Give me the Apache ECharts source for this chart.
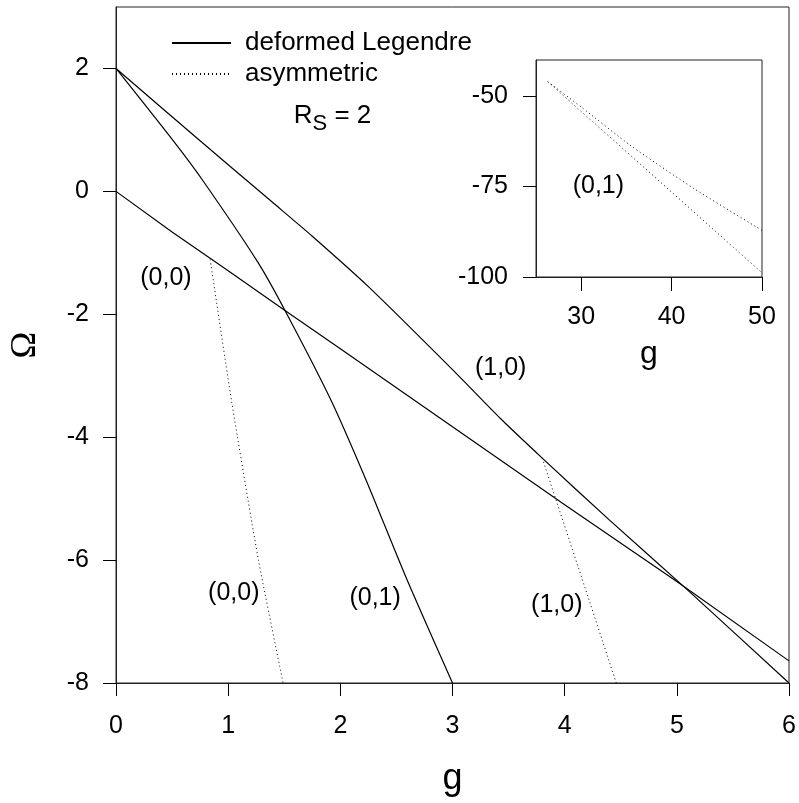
<!DOCTYPE html>
<html>
<head>
<meta charset="utf-8">
<script src="https://cdn.jsdelivr.net/npm/echarts@6/dist/echarts.min.js"></script>
<style>
  html, body { margin: 0; padding: 0; background: #fff; }
  #chart { width: 799px; height: 803px; }
</style>
</head>
<body>
<div id="chart"></div>
<script>
// tick positions
const gTicks = [0, 1, 2, 3, 4, 5, 6];
const omegaTicks = [-8, -6, -4, -2, 0, 2];
const insetGTicks = [30, 40, 50];
const insetOmegaTicks = [-100, -75, -50];

// deformed Legendre branches (g, Omega)
const legendre00 = [[0, 0], [0.5, -0.66], [1, -1.29], [1.5, -1.93], [2, -2.56], [3, -3.83], [4, -5.1], [5, -6.35], [6, -7.64]];
const legendre01 = [[0, 2], [0.52, 0.8], [0.78, 0.16], [1.26, -1.14], [1.51, -1.95], [1.92, -3.41], [2.23, -4.7], [2.59, -6.3], [3, -8]];
const legendre10 = [[0, 2], [0.7, 0.9], [1.39, -0.17], [1.75, -0.73], [2.25, -1.55], [3.0, -2.9], [3.43, -3.7], [3.8, -4.34], [4.4, -5.35], [5.08, -6.46], [6, -8]];

// asymmetric branches
const asym00 = [[0.84, -1.11], [1.03, -3.41], [1.27, -6.0], [1.49, -8]];
const asym10 = [[3.8, -4.34], [4.14, -6.22], [4.46, -8]];

// inset: asymmetric (0,1) at large g
const insetUpper = [[26.3, -46], [30, -53], [35.6, -63.9], [42.5, -75.6], [49.4, -86.2], [50, -87.1]];
const insetLower = [[26.3, -46], [35.6, -66.7], [49.8, -98.4], [50, -98.9]];

// annotation labels [g, Omega, text]
const mainLabels = [[0.445, -1.415, '(0,0)'], [1.05, -6.53, '(0,0)'], [2.31, -6.62, '(0,1)'], [3.93, -6.74, '(1,0)'], [3.43, -2.87, '(1,0)']];
const insetLabels = [[31.9, -74.9, '(0,1)']];
const rsLabel = [[1.93, 1.23]];

const FONT = 'Liberation Sans, Arial, sans-serif';
const SOLID = 'deformed Legendre';
const DOTTED = 'asymmetric';

const chart = echarts.init(document.getElementById('chart'));

const solidStyle = { color: '#000', width: 1.2 };
const dotStyle = { color: '#000', width: 1, type: [1, 3] };

function lineSeries(name, data, style, idx, smooth) {
  return {
    name: name,
    type: 'line',
    xAxisIndex: idx,
    yAxisIndex: idx,
    data: data,
    symbol: 'none',
    smooth: smooth || false,
    itemStyle: { color: '#000' },
    lineStyle: style,
    silent: true,
    z: 3
  };
}

function labelSeries(data, idx, extra) {
  return Object.assign({
    type: 'scatter',
    xAxisIndex: idx,
    yAxisIndex: idx,
    data: data,
    symbolSize: 1,
    itemStyle: { color: 'rgba(0,0,0,0)', opacity: 1 },
    silent: true,
    label: {
      show: true,
      position: 'inside',
      formatter: p => p.value[2],
      color: '#000',
      fontSize: 25,
      fontFamily: FONT
    }
  }, extra || {});
}

const tickLabel = { color: '#000', fontSize: 25, fontFamily: FONT };
const axisLine = { show: true, onZero: false, lineStyle: { color: '#222', width: 1 } };

const option = {
  animation: false,
  backgroundColor: '#fff',
  legend: {
    orient: 'vertical',
    left: 171,
    top: 30,
    padding: 0,
    itemWidth: 59,
    itemHeight: 14,
    itemGap: 5,
    selectedMode: false,
    data: [SOLID, DOTTED],
    itemStyle: { opacity: 0 },
    textStyle: { color: '#000', fontSize: 26, fontFamily: FONT, padding: [0, 0, 0, 9] }
  },
  grid: [
    { left: 113, top: 7, width: 676, height: 676, show: true, borderColor: '#222', borderWidth: 1, backgroundColor: 'transparent' },
    { left: 536, top: 60, width: 226, height: 217, show: true, borderColor: '#222', borderWidth: 1, backgroundColor: '#fff' }
  ],
  xAxis: [
    {
      gridIndex: 0, type: 'value', min: 0, max: 6, interval: 1,
      name: 'g', nameLocation: 'middle', nameGap: 78,
      nameTextStyle: { color: '#000', fontSize: 36, fontFamily: FONT },
      axisLine: axisLine,
      axisTick: { show: true, inside: false, length: 13, lineStyle: { color: '#000' }, customValues: gTicks },
      axisLabel: Object.assign({ margin: 31, customValues: gTicks }, tickLabel),
      splitLine: { show: false }
    },
    {
      gridIndex: 1, type: 'value', min: 25, max: 50,
      name: 'g', nameLocation: 'middle', nameGap: 61,
      nameTextStyle: { color: '#000', fontSize: 32, fontFamily: FONT },
      axisLine: axisLine,
      axisTick: { show: true, length: 14, lineStyle: { color: '#000' }, customValues: insetGTicks },
      axisLabel: Object.assign({ margin: 28, customValues: insetGTicks }, tickLabel),
      splitLine: { show: false }
    }
  ],
  yAxis: [
    {
      gridIndex: 0, type: 'value', min: -8, max: 3,
      name: 'Ω', nameLocation: 'middle', nameGap: 72, nameRotate: 90,
      nameTextStyle: { color: '#000', fontSize: 36, fontFamily: 'Liberation Serif, Times New Roman, serif' },
      axisLine: axisLine,
      axisTick: { show: true, length: 13, lineStyle: { color: '#000' }, customValues: omegaTicks },
      axisLabel: Object.assign({ margin: 27, customValues: omegaTicks }, tickLabel),
      splitLine: { show: false }
    },
    {
      gridIndex: 1, type: 'value', min: -100, max: -40,
      axisLine: axisLine,
      axisTick: { show: true, length: 13, lineStyle: { color: '#000' }, customValues: insetOmegaTicks },
      axisLabel: Object.assign({ margin: 28, customValues: insetOmegaTicks }, tickLabel),
      splitLine: { show: false }
    }
  ],
  series: [
    lineSeries(SOLID, legendre00, solidStyle, 0),
    lineSeries(SOLID, legendre01, solidStyle, 0, 0.25),
    lineSeries(SOLID, legendre10, solidStyle, 0, 0.25),
    lineSeries(DOTTED, asym00, dotStyle, 0, 0.2),
    lineSeries(DOTTED, asym10, dotStyle, 0),
    lineSeries(DOTTED, insetUpper, dotStyle, 1, 0.2),
    lineSeries(DOTTED, insetLower, dotStyle, 1),
    labelSeries(mainLabels, 0),
    labelSeries(insetLabels, 1),
    labelSeries(rsLabel, 0, {
      label: {
        show: true,
        position: 'inside',
        formatter: '{r|R}{s|S}{r| = 2}',
        rich: {
          r: { fontSize: 26, lineHeight: 26, verticalAlign: 'top', color: '#000', fontFamily: FONT },
          s: { fontSize: 22, lineHeight: 22, verticalAlign: 'top', padding: [10, 0, 0, 0], color: '#000', fontFamily: FONT }
        }
      }
    })
  ]
};

chart.setOption(option);
</script>
</body>
</html>
